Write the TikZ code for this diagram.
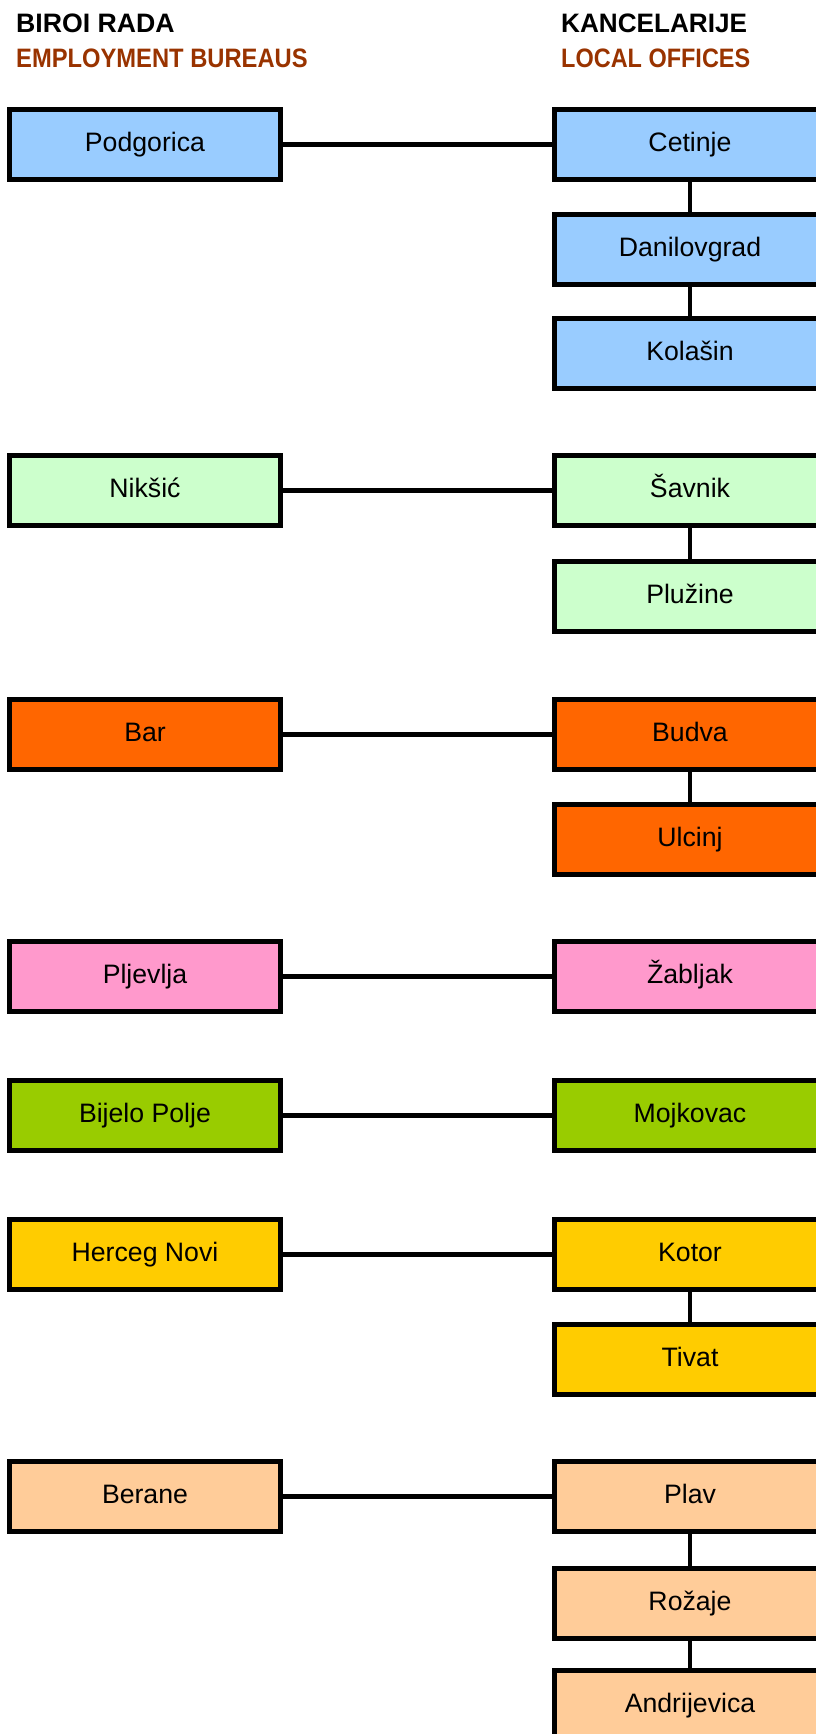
\documentclass[tikz,border=0pt]{standalone}
\usepackage{fontspec}
\setmainfont{Liberation Sans}
\definecolor{cblue}{HTML}{99CCFF}
\definecolor{cmint}{HTML}{CCFFCC}
\definecolor{corange}{HTML}{FF6600}
\definecolor{cpink}{HTML}{FF99CC}
\definecolor{clime}{HTML}{99CC00}
\definecolor{cgold}{HTML}{FFCC00}
\definecolor{cpeach}{HTML}{FFCC99}
\definecolor{cbrown}{HTML}{993300}
\begin{document}
\begin{tikzpicture}[x=1pt,y=-1pt,
  box/.style={draw=black, line width=5pt, minimum width=271pt, minimum height=70pt,
    inner sep=0pt, font=\fontsize{26.67}{32}\selectfont, text height=19pt, text depth=6pt},
  hd/.style={anchor=base west, inner sep=0pt, font=\fontsize{26.67}{32}\selectfont\bfseries},
  hlink/.style={line width=4.5pt},
  vlink/.style={line width=3.5pt}]
\useasboundingbox (0,0) rectangle (816,1734);
\clip (0,0) rectangle (816,1734);

% headers
\node[hd] (h1) at (16,33) {BIROI RADA};
\node[hd, text=cbrown] (h2) at (16,68) {\scalebox{0.89}[1]{EMPLOYMENT BUREAUS}};
\node[hd] (h3) at (561,33) {\scalebox{0.98}[1]{KANCELARIJE}};
\node[hd, text=cbrown] (h4) at (561,68) {\scalebox{0.88}[1]{LOCAL OFFICES}};

% left column
\node[box, fill=cblue] (pod) at (145,144.5) {Podgorica};
\node[box, fill=cmint] (nik) at (145,490.5) {Nikšić};
\node[box, fill=corange] (bar) at (145,734.5) {Bar};
\node[box, fill=cpink] (plj) at (145,976.5) {Pljevlja};
\node[box, fill=clime] (bij) at (145,1115.5) {Bijelo Polje};
\node[box, fill=cgold] (her) at (145,1254.5) {Herceg Novi};
\node[box, fill=cpeach] (ber) at (145,1496.5) {Berane};

% right column
\node[box, fill=cblue] (cet) at (690,144.5) {Cetinje};
\node[box, fill=cblue] (dan) at (690,249.5) {Danilovgrad};
\node[box, fill=cblue] (kol) at (690,353.5) {Kolašin};
\node[box, fill=cmint] (sav) at (690,490.5) {Šavnik};
\node[box, fill=cmint] (plu) at (690,596.5) {Plužine};
\node[box, fill=corange] (bud) at (690,734.5) {Budva};
\node[box, fill=corange] (ulc) at (690,839.5) {Ulcinj};
\node[box, fill=cpink] (zab) at (690,976.5) {Žabljak};
\node[box, fill=clime] (moj) at (690,1115.5) {Mojkovac};
\node[box, fill=cgold] (kot) at (690,1254.5) {Kotor};
\node[box, fill=cgold] (tiv) at (690,1359.5) {Tivat};
\node[box, fill=cpeach] (pla) at (690,1496.5) {Plav};
\node[box, fill=cpeach] (roz) at (690,1603.5) {Rožaje};
\node[box, fill=cpeach] (and) at (690,1705.5) {Andrijevica};

% horizontal links
\draw[hlink] (pod.east) -- (cet.west);
\draw[hlink] (nik.east) -- (sav.west);
\draw[hlink] (bar.east) -- (bud.west);
\draw[hlink] (plj.east) -- (zab.west);
\draw[hlink] (bij.east) -- (moj.west);
\draw[hlink] (her.east) -- (kot.west);
\draw[hlink] (ber.east) -- (pla.west);

% vertical links
\draw[vlink] (cet.south) -- (dan.north);
\draw[vlink] (dan.south) -- (kol.north);
\draw[vlink] (sav.south) -- (plu.north);
\draw[vlink] (bud.south) -- (ulc.north);
\draw[vlink] (kot.south) -- (tiv.north);
\draw[vlink] (pla.south) -- (roz.north);
\draw[vlink] (roz.south) -- (and.north);
\end{tikzpicture}
\end{document}
